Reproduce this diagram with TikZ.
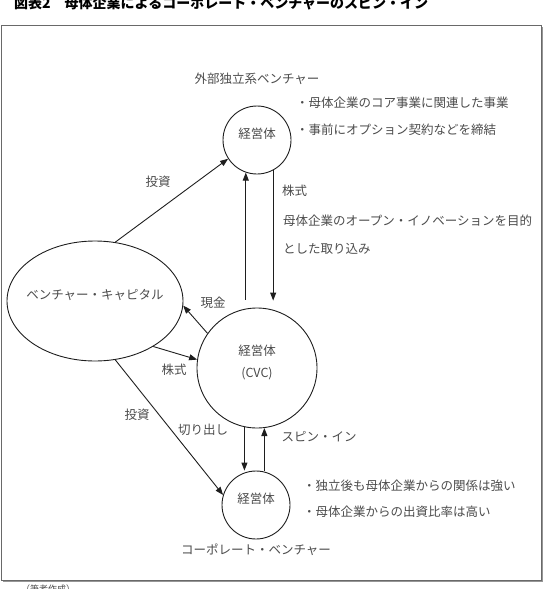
\documentclass[tikz,border=0pt]{standalone}
\usepackage{fontspec}
\setmainfont{Noto Sans CJK JP}
\usepackage{xcolor}
\definecolor{ink}{RGB}{30,30,30}
\definecolor{txt}{RGB}{75,75,75}
\definecolor{rim}{RGB}{105,105,105}
\usetikzlibrary{arrows.meta,positioning,shapes.geometric}
\newcommand{\jpsize}{\fontsize{12.5}{17}\selectfont}

\begin{document}
\begin{tikzpicture}[x=1pt,y=-1pt,
  circ/.style={circle,draw=ink,line width=0.9pt,inner sep=0pt,
               text=txt,font=\jpsize,text depth=13pt},
  lbl/.style={text=txt,font=\jpsize,inner sep=0pt},
  ar/.style={-{Triangle[length=8pt,width=6pt]},draw=ink,line width=0.9pt},
]
  \useasboundingbox (0,0) rectangle (546,589);
  % frame
  \draw[rim,line width=1pt] (1,25) rectangle (541,580);
  \draw[rim!70,line width=1pt] (3,581.5) -- (542.5,581.5) -- (542.5,27);
  \node[anchor=west,inner sep=0pt,font=\bfseries\fontsize{14}{14}\selectfont]
    (title) at (14,3) {図表2\quad 母体企業によるコーポレート・ベンチャーのスピン・イン};
  \node[anchor=north west,inner sep=0pt,text=txt,font=\fontsize{9}{9}\selectfont]
    (note) at (21,585) {（筆者作成）};

  % units
  \node[circ,minimum size=68pt] (ext) at (257,140) {経営体};
  \node[circ,minimum size=120pt,align=center] (cvc) at (257,368)
    {経営体\\[5pt](CVC)};
  \node[circ,minimum size=68pt] (corp) at (256,505) {経営体};
  \node[ellipse,draw=ink,line width=0.9pt,inner xsep=-6.5pt,inner ysep=0pt,
        text=txt,font=\jpsize,text depth=13pt,
        minimum width=176pt,minimum height=120pt]
    (vc) at (95,301) {ベンチャー・キャピタル};

  \node[lbl,above=21pt of ext] (extname) {外部独立系ベンチャー};
  \node[lbl,below=4pt of corp] (corpname) {コーポレート・ベンチャー};

  % flows
  \draw[ar] (vc.71) -- (ext.213);
  \draw[ar] (cvc.145) -- (vc.357);
  \draw[ar] (vc.322) -- (cvc.172);
  \draw[ar] (vc.289) -- (corp.163);
  \draw[ar,shorten <=8pt] (ext.251 |- cvc.north) -- (ext.251);
  \draw[ar,shorten >=7pt] (ext.298) -- (ext.298 |- cvc.north);
  \draw[ar] (cvc.258) -- (cvc.258 |- corp.north);
  \draw[ar] (corp.north -| cvc.277) -- (cvc.277);

  % labels
  \node[lbl] (invtop) at (158,182) {投資};
  \node[lbl] (cash) at (213,303) {現金};
  \node[lbl] (shareleft) at (174,370) {株式};
  \node[lbl] (invlow) at (137,415) {投資};
  \node[lbl] (carve) at (203,430) {切り出し};
  \node[lbl] (spin) at (319,437) {スピン・イン};
  \node[lbl,anchor=west] (shareright) at (282,191) {株式};
  \node[lbl,anchor=west] (aim1) at (283,221) {母体企業のオープン・イノベーションを目的};
  \node[lbl,anchor=west] (aim2) at (283,249) {とした取り込み};

  % notes
  \node[lbl,anchor=west] (ext1) at (296,103) {・母体企業のコア事業に関連した事業};
  \node[lbl,anchor=west] (ext2) at (296,130) {・事前にオプション契約などを締結};
  \node[lbl,anchor=west] (corp1) at (303,486) {・独立後も母体企業からの関係は強い};
  \node[lbl,anchor=west] (corp2) at (303,512) {・母体企業からの出資比率は高い};
\end{tikzpicture}
\end{document}
